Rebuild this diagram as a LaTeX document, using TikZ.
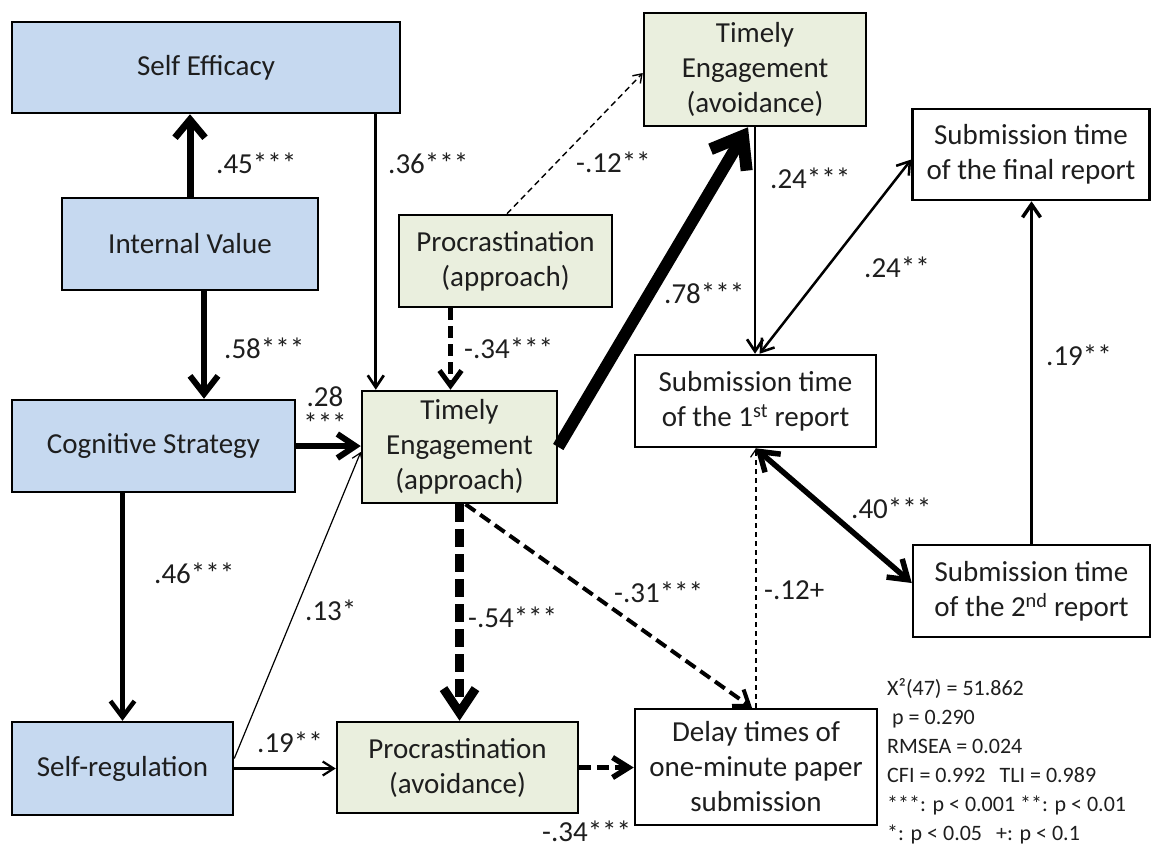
\documentclass[tikz,border=0pt]{standalone}
\usepackage{fontspec}
\setmainfont{Carlito}
\usetikzlibrary{arrows.meta,calc}
\definecolor{boxblue}{RGB}{198,217,240}
\definecolor{boxgreen}{RGB}{234,239,222}
\definecolor{ink}{RGB}{30,30,30}
\begin{document}
\begin{tikzpicture}[x=1pt,y=-1pt,
  box/.style={draw=black, line width=2.5pt, inner sep=0pt, align=center, text=ink,
    font=\fontsize{29}{35}\selectfont},
  bluebox/.style={box, fill=boxblue},
  greenbox/.style={box, fill=boxgreen},
  whitebox/.style={box, fill=white},
  lbl/.style={anchor=west, inner sep=0pt, text=ink, font=\fontsize{29}{35}\selectfont},
  legend/.style={anchor=north west, inner sep=0pt, align=left, text=ink, font=\fontsize{22}{29}\selectfont},
  hd/.style n args={2}{-{Straight Barb[length=#1pt,width=#2pt]}},
  dhd/.style n args={2}{{Straight Barb[length=#1pt,width=#2pt]}-{Straight Barb[length=#1pt,width=#2pt]}},
  dashA/.style={dash pattern=on 6pt off 4pt},
  dashB/.style={dash pattern=on 12pt off 6pt},
  dashC/.style={dash pattern=on 18pt off 7pt},
  dashT/.style={dash pattern=on 5pt off 4pt},
]
\useasboundingbox (0,0) rectangle (1153,851);

% boxes
\node[bluebox, minimum width=388pt, minimum height=91pt] (SE) at (206,67.5) {Self Efficacy};
\node[bluebox, minimum width=256pt, minimum height=92pt] (IV) at (190,244) {Internal Value};
\node[bluebox, minimum width=283pt, minimum height=92pt] (CS) at (153.5,446) {Cognitive Strategy};
\node[bluebox, minimum width=221pt, minimum height=93pt] (SR) at (122.5,768.5) {Self-regulation};
\node[greenbox, minimum width=195pt, minimum height=112pt] (TEA) at (459.5,447) {Timely\\Engagement\\(approach)};
\node[greenbox, minimum width=213pt, minimum height=92pt] (PA) at (505.5,261) {Procrastination\\(approach)};
\node[greenbox, minimum width=222pt, minimum height=113pt] (TEAv) at (755,69.5) {Timely\\Engagement\\(avoidance)};
\node[greenbox, minimum width=241pt, minimum height=91pt] (PAv) at (457.5,767.5) {Procrastination\\(avoidance)};
\node[whitebox, minimum width=241pt, minimum height=92pt] (S1) at (755.5,401) {Submission time\\of the 1\textsuperscript{st} report};
\node[whitebox, minimum width=237pt, minimum height=91pt] (Fin) at (1031,154.5) {Submission time\\of the final report};
\node[whitebox, minimum width=237pt, minimum height=92pt] (S2) at (1031.5,591) {Submission time\\of the 2\textsuperscript{nd} report};
\node[whitebox, minimum width=242pt, minimum height=116pt] (Del) at (756,767) {Delay times of\\one-minute paper\\submission};

% helper coordinates on node borders
\coordinate (ivx) at ($(IV.south)+(14,0)$);
\coordinate (sex) at ($(TEA.north west)+(15,0)$);
\coordinate (pax) at ($(TEA.north)+(-9,0)$);
\coordinate (tevin) at ($(TEAv.south)+(-7,0)$);
\coordinate (s1top) at ($(S1.north)+(4,0)$);
\coordinate (finw) at ($(Fin.west)+(0,5)$);
\coordinate (s2w) at ($(S2.west)+(0,-8)$);
\coordinate (teas) at ($(TEA.south)+(6,0)$);
\coordinate (deln) at ($(Del.north)+(-4,0)$);
\coordinate (sre) at ($(SR.east)+(0,-10)$);
\coordinate (teaw) at ($(TEA.west)+(0,5)$);
\coordinate (pan) at ($(PA.north)+(1.5,0)$);
\coordinate (tevw) at ($(TEAv.west)+(0,3.5)$);

% connectors
\draw[line width=7pt, hd={18}{30}] (IV.north) -- (IV.north |- SE.south);
\draw[line width=6pt, hd={18}{28}] (ivx) -- (ivx |- CS.north);
\draw[line width=2.7pt, hd={12}{16}] (sex |- SE.south) -- (sex);
\draw[line width=5pt, dashB, hd={15}{22}] (pax |- PA.south) -- (pax);
\draw[line width=1.4pt, dashA, hd={8}{11}] (pan) -- (tevw);
\draw[line width=12pt, hd={28}{42}] (TEA.east) -- (tevin);
\draw[line width=2.7pt, hd={12}{16}] (TEAv.south) -- (TEAv.south |- S1.north);
\draw[line width=2.5pt, dhd={12}{16}] (s1top) -- (finw);
\draw[line width=3.5pt, hd={13}{18}] (S2.north) -- (S2.north |- Fin.south);
\draw[line width=5.5pt, dhd={18}{24}] (S1.south) -- (s2w);
\draw[line width=1.2pt, dashT, hd={8}{11}] (Del.north) -- (Del.north |- S1.south);
\draw[line width=4pt, dashB, hd={14}{20}] (teas) -- (deln);
\draw[line width=9pt, dashC, hd={24}{32}] (TEA.south) -- (TEA.south |- PAv.north);
\draw[line width=1.2pt, hd={8}{11}] (sre) -- (teaw);
\draw[line width=6pt, hd={18}{24}] (CS.east) -- (CS.east -| TEA.west);
\draw[line width=4.5pt, hd={16}{24}] (SR.north |- CS.south) -- (SR.north);
\draw[line width=2.2pt, hd={11}{14}] (SR.east) -- (SR.east -| PAv.west);
\draw[line width=5.5pt, dashB, hd={16}{20}] (PAv.east) -- (PAv.east -| Del.west);

% labels
\node[lbl] (l45) at (216,163) {.45***};
\node[lbl] (l58) at (224,348) {.58***};
\node[lbl] (l36) at (388,163) {.36***};
\node[lbl] (l12a) at (576,162) {-.12**};
\node[lbl] (l34a) at (464,348) {-.34***};
\node[lbl] (l78) at (664,293) {.78***};
\node[lbl] (l24a) at (770,178) {.24***};
\node[lbl] (l24b) at (864,267) {.24**};
\node[lbl] (l19a) at (1046,355) {.19**};
\node[lbl] (l40) at (851,508) {.40***};
\node[lbl] (l12b) at (764,590) {-.12+};
\node[lbl] (l31) at (614,592) {-.31***};
\node[lbl] (l54) at (468,617) {-.54***};
\node[lbl] (l13) at (305,610) {.13*};
\node[lbl, anchor=center, align=center, font=\fontsize{29}{27}\selectfont] (l28) at (325,410) {.28\\***};
\node[lbl] (l46) at (154,573) {.46***};
\node[lbl] (l19b) at (257,742) {.19**};
\node[lbl] (l34b) at (542,831) {-.34***};

% fit statistics
\node[legend] (fit) at (887,678) {X²(47) = 51.862\\
\hspace{5pt}p = 0.290\\
RMSEA = 0.024\\
CFI = 0.992\hspace{14pt}TLI = 0.989\\
***: p < 0.001 **: p < 0.01\\
*: p < 0.05\hspace{14pt}+: p < 0.1};
\end{tikzpicture}
\end{document}
